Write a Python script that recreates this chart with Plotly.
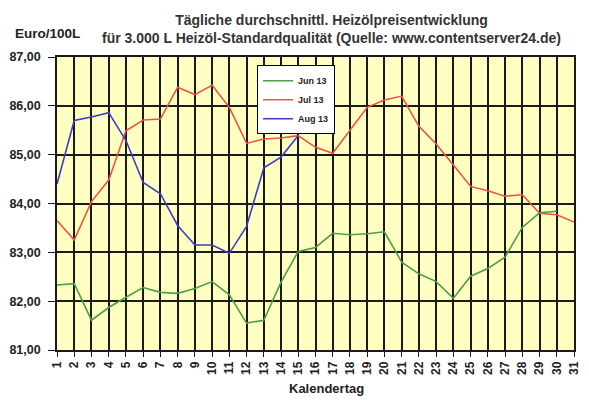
import plotly.graph_objects as go

# Kalendertage und Heizölpreise (Euro/100L)
days = list(range(1, 32))

jun13 = [82.33, 82.36, 81.61, 81.87, 82.08, 82.28, 82.18, 82.16, 82.26, 82.40,
         82.13, 81.55, 81.61, 82.39, 83.02, 83.10, 83.39, 83.36, 83.38, 83.42,
         82.80, 82.56, 82.40, 82.06, 82.51, 82.67, 82.90, 83.51, 83.81, 83.84]

jul13 = [83.65, 83.25, 84.04, 84.48, 85.49, 85.71, 85.73, 86.38, 86.23, 86.42,
         85.97, 85.23, 85.32, 85.34, 85.39, 85.15, 85.03, 85.49, 85.97, 86.12,
         86.20, 85.58, 85.22, 84.79, 84.35, 84.26, 84.15, 84.18, 83.80, 83.77,
         83.62]

aug13 = [84.40, 85.70, 85.77, 85.86, 85.29, 84.43, 84.20, 83.55, 83.15, 83.15,
         82.98, 83.53, 84.73, 84.95, 85.39]

series = [
    ("Jun 13", jun13, "#4E9E45"),
    ("Jul 13", jul13, "#F0543C"),
    ("Aug 13", aug13, "#3C3CC8"),
]

fnt = "Liberation Sans, Arial, sans-serif"
plot_h = 293  # height of plot area in px, used to place the texts

fig = go.Figure()
for name, vals, col in series:
    fig.add_trace(go.Scatter(
        x=days[:len(vals)], y=vals, name=name, mode="lines",
        line=dict(color=col, width=1.6),
    ))

# page body has an 8px margin, so the figure is a bit smaller than the window
fig.update_layout(
    width=581, height=392,
    margin=dict(l=49, r=15, t=49, b=50),
    paper_bgcolor="white",
    plot_bgcolor="#FFFFC2",
    separators=",.",
    showlegend=True,
    legend=dict(
        x=0.387, y=0.972, xanchor="left", yanchor="top",
        bgcolor="white", bordercolor="black", borderwidth=1,
        font=dict(family=fnt, size=9, color="#222", weight="bold"),
        tracegroupgap=0,
    ),
    font=dict(family=fnt, color="#222"),
)

fig.update_xaxes(
    range=[1, 31], tickmode="array", tickvals=days,
    ticktext=[str(d) for d in days], tickangle=-90,
    tickfont=dict(family=fnt, size=12, color="#222", weight="bold"),
    showgrid=True, gridcolor="#1a1a1a", gridwidth=1.6,
    showline=True, linecolor="#1a1a1a", linewidth=1.6, mirror=True,
    ticks="outside", ticklen=5, tickcolor="#1a1a1a",
    zeroline=False, automargin=False,
)
fig.update_yaxes(
    range=[81, 87], dtick=1, tickformat=".2f",
    tickfont=dict(family=fnt, size=12.5, color="#222", weight="bold"),
    showgrid=True, gridcolor="#1a1a1a", gridwidth=1.6,
    showline=True, linecolor="#1a1a1a", linewidth=1.6, mirror=True,
    ticks="outside", ticklen=7, tickcolor="#1a1a1a",
    ticklabelstandoff=5,
    zeroline=False, automargin=False,
)

fig.add_annotation(
    text="Tägliche durchschnittl. Heizölpreisentwicklung<br>"
         "für 3.000 L Heizöl-Standardqualität (Quelle: www.contentserver24.de)",
    xref="paper", yref="paper", x=0.53, y=1.0 + 47 / plot_h,
    xanchor="center", yanchor="top", showarrow=False, align="center",
    font=dict(family=fnt, size=14, color="#333", weight="bold"),
)
fig.add_annotation(
    text="Euro/100L", xref="paper", yref="paper",
    x=-0.085, y=1.0 + 24 / plot_h, xanchor="left", yanchor="middle",
    showarrow=False, font=dict(family=fnt, size=13.5, color="#222", weight="bold"),
)
fig.add_annotation(
    text="Kalendertag", xref="paper", yref="paper",
    x=0.522, y=-38 / plot_h, xanchor="center", yanchor="middle",
    showarrow=False, font=dict(family=fnt, size=13, color="#222", weight="bold"),
)

fig.write_html("out.html")
